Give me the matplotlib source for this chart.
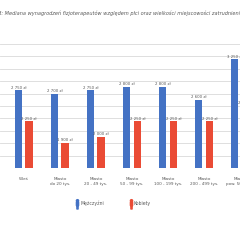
import matplotlib.pyplot as plt
from matplotlib.path import Path
from matplotlib.lines import Line2D
import numpy as np

categories = ['Wieś', 'Miasto\ndo 20 tys.', 'Miasto\n20 - 49 tys.', 'Miasto\n50 - 99 tys.',
              'Miasto\n100 - 199 tys.', 'Miasto\n200 - 499 tys.', 'Miasto\npow. 500 tys.']
men = [2750, 2700, 2750, 2800, 2800, 2600, 3250]
women = [2250, 1900, 2000, 2250, 2250, 2250, 2500]
series_names = ['Mężczyźni', 'Kobiety']
title = 'Wykres 8: Mediana wynagrodzeń fizjoterapeutów względem płci oraz wielkości miejscowości zatrudnienia'

col_m = '#4472C4'
col_k = '#EA4B35'
txt_col = '#595959'

def fmt(v):
    return f'{v:,}'.replace(',', ' ') + ' zł'

fig = plt.figure(figsize=(2.4, 2.4), dpi=100)
# axes wider than the figure: the reference is a crop of a bigger chart
ax = fig.add_axes([0, 0.30, 1, 0.5167])

x = np.arange(len(categories))
w = 0.21
ax.bar(x - 0.15, men, w, color=col_m, zorder=3)
ax.bar(x + 0.15, women, w, color=col_k, zorder=3)

for xi, m, k in zip(x, men, women):
    ax.text(xi - 0.15, m + 15, fmt(m), ha='center', va='bottom', fontsize=2.8, color=txt_col)
    ax.text(xi + 0.15, k + 15, fmt(k), ha='center', va='bottom', fontsize=2.8, color=txt_col)

ax.set_xlim(-0.661, 5.95)
ax.set_ylim(1500, 3500)
ax.set_yticks(range(1500, 3501, 200))
ax.yaxis.grid(True, color='#d9d9d9', linewidth=0.6, zorder=0)
ax.tick_params(left=False, labelleft=False, bottom=False)
ax.set_xticks(x)
ax.set_xticklabels(categories, fontsize=3, color=txt_col, linespacing=1.3)
ax.tick_params(axis='x', pad=3)
for s in ax.spines.values():
    s.set_visible(False)

# title, shifted so the prefix "Wykres 8" falls off the left edge
r = fig.canvas.get_renderer()
tmp = fig.text(0, 0, 'Wykres 8', fontsize=3.6, style='italic')
pw = tmp.get_window_extent(r).width
tmp.remove()
fig.text((-pw + 1) / 240, 1 - 13 / 240, title, fontsize=3.6, style='italic',
         color=txt_col, ha='left', va='center')

# person marker for the legend
head = Path.circle(center=(0, 0.75), radius=0.22)
body = Path([(-0.22, 0.45), (0.22, 0.45), (0.22, -0.2), (0.12, -0.2), (0.12, -0.9),
             (-0.12, -0.9), (-0.12, -0.2), (-0.22, -0.2), (-0.22, 0.45)],
            [Path.MOVETO] + [Path.LINETO] * 7 + [Path.CLOSEPOLY])
person = Path.make_compound_path(head, body)

handles = [Line2D([], [], marker=person, ls='', color=col_m, markersize=7),
           Line2D([], [], marker=person, ls='', color=col_k, markersize=7)]
fig.legend(handles, series_names, loc='center', bbox_to_anchor=(0.472, 1 - 203.5 / 240),
           ncol=2, frameon=False, fontsize=3.3, labelcolor=txt_col,
           handlelength=0.6, handletextpad=0.3, columnspacing=5.5)

fig.savefig('out.png', dpi=100)
